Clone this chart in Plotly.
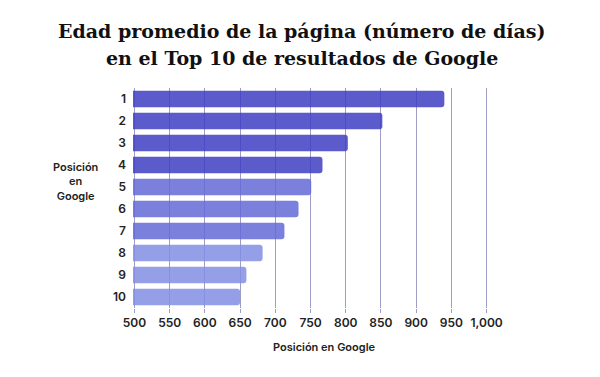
import plotly.graph_objects as go

positions = ["1", "2", "3", "4", "5", "6", "7", "8", "9", "10"]
days = [940, 852, 803, 767, 751, 733, 713, 682, 659, 650]
bar_colors = ["#3E3EC3"] * 4 + ["#646AD7"] * 3 + ["#828EE4"] * 3
tick_vals = list(range(500, 1001, 50))
tick_text = ["500", "550", "600", "650", "700", "750", "800", "850", "900", "950", "1,000"]
title_lines = ["Edad promedio de la página (número de días)",
               "en el Top 10 de resultados de Google"]
x_title = "Posición en Google"
y_title = "Posición<br>en<br>Google"

fig = go.Figure(go.Bar(
    x=days, y=positions, orientation="h", base=0,
    marker=dict(color=bar_colors, cornerradius=3, opacity=0.85,
                line=dict(width=0)),
    hoverinfo="x+y",
))

title_font = dict(family="DejaVu Serif", size=19, color="#111111", weight=700)
lbl_font = dict(family="Inter", size=11, color="#222222", weight=600)
tick_font = dict(family="Inter", size=12, color="#222222", weight=600)

L, R, T, B = 133, 112, 88, 69
pw, ph = 600 - L - R, 377 - T - B

fig.update_layout(
    width=600, height=377,
    paper_bgcolor="white", plot_bgcolor="white",
    margin=dict(l=L, r=R, t=T, b=B),
    bargap=0.24,
    showlegend=False,
    xaxis=dict(
        range=[498, 1002], tickvals=tick_vals, ticktext=tick_text,
        showgrid=True, gridcolor="rgba(60,60,140,0.5)", gridwidth=1.2,
        ticks="outside", ticklen=4, tickcolor="rgba(60,60,140,0.5)", tickwidth=1.2,
        zeroline=False, showline=False,
        tickfont=tick_font,
    ),
    yaxis=dict(
        categoryorder="array", categoryarray=positions[::-1],
        autorange=False, range=[-0.5, 9.5],
        showgrid=False, zeroline=False, showline=False, ticks="",
        ticksuffix="  ",
        tickfont=tick_font,
    ),
    annotations=[
        dict(text=y_title, xref="paper", yref="paper",
             x=(75 - L) / pw, y=(377 - B - 181) / ph, xanchor="center", yanchor="middle",
             showarrow=False, font=lbl_font),
        dict(text=x_title, xref="paper", yref="paper",
             x=(324 - L) / pw, y=(377 - B - 347) / ph, xanchor="center", yanchor="middle",
             showarrow=False, font=lbl_font),
        dict(text=title_lines[0], xref="paper", yref="paper",
             x=(302 - L) / pw, y=(377 - B - 31) / ph,
             xanchor="center", yanchor="middle", showarrow=False, font=title_font),
        dict(text=title_lines[1], xref="paper", yref="paper",
             x=(302 - L) / pw, y=(377 - B - 58) / ph,
             xanchor="center", yanchor="middle", showarrow=False, font=title_font),
    ],
)

fig.write_html("out.html", config={"displayModeBar": False},
               post_script="document.body.style.margin='0';document.body.style.overflow='hidden';")
